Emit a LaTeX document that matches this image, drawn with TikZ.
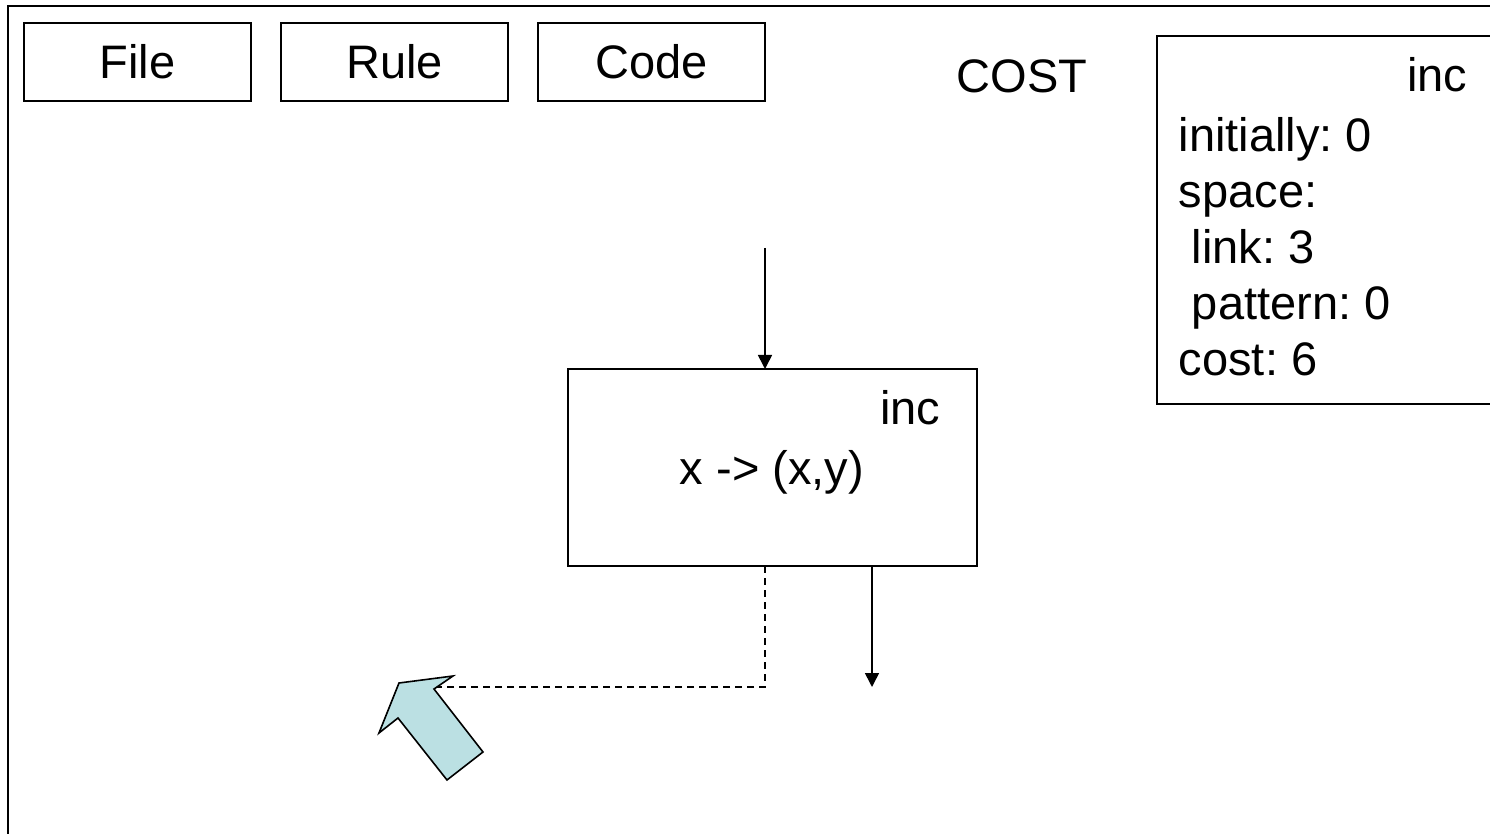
\documentclass[tikz,border=0pt]{standalone}
\usepackage{fontspec}
\setmainfont{Liberation Sans}
\frenchspacing
\usetikzlibrary{positioning,arrows.meta}
\definecolor{arrowcyan}{RGB}{187,224,227}

\begin{document}
\begin{tikzpicture}[box/.style={draw, line width=0.8pt, inner sep=0pt, outer sep=0pt}, x=0.5pt, y=-0.5pt,
		>={Triangle[length=7pt,width=7pt]},   % arrow tips
		font=\fontsize{23.5}{28}\selectfont, line width=0.8pt]
		\useasboundingbox (0,0) rectangle (1490,834);
		\clip (0,0) rectangle (1490,834);
		% frame
		\draw (8,6) rectangle (1520,860);
		% menu boxes
		\node[box, anchor=north west, minimum width=113.5pt, minimum height=39pt] (file) at (24,23) {File};
		\node[box, right=15pt of file, minimum width=113.5pt, minimum height=39pt] (rule) {Rule};
		\node[box, right=15pt of rule, minimum width=113.5pt, minimum height=39pt] (code) {Code};
		\node[anchor=base] (cost) at (1022,93) {COST};
		% cost box
		\node[box, anchor=north west, minimum width=180pt, minimum height=184pt] (costbox) at (1157,36) {};
		\node[anchor=base east, inner sep=0pt] (costname) at (1468,92) {inc};
		\foreach \txt [count=\i] in {initially: 0, space:, ~link: 3, ~pattern: 0, cost: 6}
			\node[anchor=base west, inner sep=0pt] (cl\i) at (1178,{96+56*\i}) {\txt};
		% rule box
		\node[box, anchor=north west, minimum width=204.5pt, minimum height=98.5pt] (incbox) at (568,369) {};
		\node[anchor=base east, inner sep=0pt] (incname) at (941,425) {inc};
		\node[anchor=base, inner sep=0pt] (incrule) at (772,485) {x -> (x,y)};
		% connectors
		\coordinate (infrom) at (765,248);
		\coordinate (outto) at (872,687);
		\coordinate (dashend) at (421,687);
		\draw[->] (infrom) -- (infrom |- incbox.north);
		\draw[->] (outto |- incbox.south) -- (outto);
		\draw[dash pattern=on 3.5pt off 2.5pt] ([xshift=-3.75pt]incbox.south) |- (dashend);
		% pointer
		\draw[fill=arrowcyan] (399,683) -- (453,676) -- (434,689) -- (483,752) -- (447,780) -- (398,718) -- (379,733) -- cycle;
	\end{tikzpicture}
\end{document}
